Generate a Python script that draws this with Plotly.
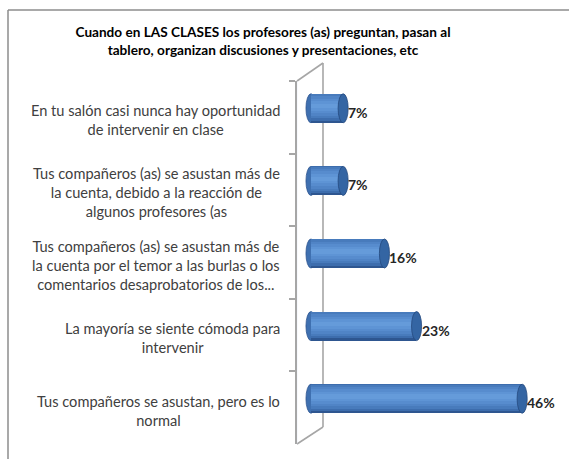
import plotly.graph_objects as go

# ---------------- data ----------------
categories = [
    "En tu salón casi nunca hay oportunidad<br>de intervenir en clase",
    "Tus compañeros (as) se asustan más de<br>la cuenta, debido a la reacción de<br>algunos profesores (as",
    "Tus compañeros (as) se asustan más de<br>la cuenta por el temor a las burlas o los<br>comentarios desaprobatorios de los...",
    "La mayoría se siente cómoda para<br>intervenir",
    "Tus compañeros se asustan, pero es lo<br>normal",
]
values = [7, 7, 16, 23, 46]
value_labels = ["7%", "7%", "16%", "23%", "46%"]
title_text = ("Cuando en LAS CLASES los profesores (as) preguntan, pasan al<br>"
              "tablero, organizan discusiones y presentaciones, etc")

# ---------------- geometry helpers ----------------
W, H = 569, 459
ML, MR, MT, MB = 297, 9, 72, 15
PW, PH = W - ML - MR, H - MT - MB
FONT = "Lato"


def px_x(p):
    return (p - ML) / PW


def px_y(p):
    return (H - MB - p) / PH


idx = list(range(len(values)))
XMIN, XMAX = -1.5, 50
SLOPE = 4.59          # px per unit
ZERO_PX = 311
x2_dom = [px_x(ZERO_PX + XMIN * SLOPE), px_x(ZERO_PX + XMAX * SLOPE)]
y_dom = [0, px_y(81)]
y2_dom = [px_y(435), 1]

fig = go.Figure()

# front (category) axis carrier trace
fig.add_trace(go.Bar(x=[0] * len(categories), y=categories, orientation="h",
                     xaxis="x", yaxis="y", marker_color="rgba(0,0,0,0)",
                     hoverinfo="skip", showlegend=False))

# cylinder shading built from nested bars
BW = 0.40
centre = -0.03
layers = [
    (0.40, "#2e5690", 0.0),
    (0.37, "#3d6dad", None),
    (0.33, "#487bbc", None),
    (0.27, "#5084c6", None),
    (0.20, "#578cce", None),
    (0.13, "#5e94d5", None),
    (0.06, "#659bda", None),
]
for w, col, off in layers:
    if off is None:
        o = max(centre - w / 2, -BW / 2)
    else:
        o = -w / 2
    fig.add_trace(go.Bar(x=values, y=idx, orientation="h", xaxis="x2", yaxis="y2",
                         width=w, offset=o, marker=dict(color=col, line=dict(width=0)),
                         hoverinfo="skip", showlegend=False))

shapes = []
CAP = 1.1
for i, v in zip(idx, values):
    shapes.append(dict(type="circle", xref="x2", yref="y2", layer="below",
                       x0=-CAP, x1=CAP, y0=i - BW / 2, y1=i + BW / 2,
                       fillcolor="#3f70b0", line=dict(color="#2e5690", width=0.8)))
    shapes.append(dict(type="circle", xref="x2", yref="y2", layer="above",
                       x0=v - CAP, x1=v + CAP, y0=i - BW / 2, y1=i + BW / 2,
                       fillcolor="#3465a3", line=dict(color="#24497e", width=0.8)))

# 3D wall lines
wall = dict(color="#a6a6a6", width=1.6)
shapes += [
    dict(type="line", xref="paper", yref="paper", layer="below",
         x0=px_x(323), x1=px_x(323), y0=px_y(63), y1=px_y(427), line=wall),
    dict(type="line", xref="paper", yref="paper", layer="below",
         x0=px_x(297), x1=px_x(323), y0=px_y(81), y1=px_y(63), line=wall),
    dict(type="line", xref="paper", yref="paper", layer="below",
         x0=px_x(297), x1=px_x(323), y0=px_y(444), y1=px_y(427), line=wall),
]
# outer frame (top and left edges visible in the window)
frame = dict(color="#8c8c8c", width=1.5)
shapes += [
    dict(type="line", xref="paper", yref="paper", layer="above",
         x0=px_x(8), x1=px_x(W + 5), y0=px_y(10), y1=px_y(10), line=frame),
    dict(type="line", xref="paper", yref="paper", layer="above",
         x0=px_x(8), x1=px_x(8), y0=px_y(10), y1=px_y(H + 5), line=frame),
]

annotations = []
for c in categories:
    annotations.append(dict(text=c, xref="paper", x=0, yref="y", y=c,
                            xanchor="right", yanchor="middle", align="center",
                            xshift=-15, yshift=-3, showarrow=False,
                            font=dict(family=FONT, size=14.6, color="#404040")))
for i, v, t in zip(idx, values, value_labels):
    annotations.append(dict(text="<b>" + t + "</b>", xref="x2", x=v, yref="y2", y=i,
                            xanchor="left", yanchor="middle", xshift=3, yshift=-4,
                            showarrow=False,
                            font=dict(family=FONT, size=14, color="#262626")))

fig.update_layout(
    width=W, height=H,
    margin=dict(l=ML, r=MR, t=MT, b=MB),
    paper_bgcolor="white", plot_bgcolor="rgba(0,0,0,0)",
    barmode="overlay", bargap=0,
    showlegend=False,
    title=dict(text="<b>" + title_text + "</b>", xref="container", yref="container",
               x=263 / W, y=1 - 37 / H, xanchor="center", yanchor="middle",
               font=dict(family=FONT, size=13.6, color="#000000")),
    xaxis=dict(domain=[0, 1], range=[0, 1], visible=False, fixedrange=True),
    yaxis=dict(domain=y_dom, type="category", categoryorder="array",
               categoryarray=categories, autorange="reversed",
               showticklabels=False, tickson="boundaries", ticks="outside",
               ticklen=6, tickcolor="#a6a6a6", tickwidth=1.5,
               showline=True, linecolor="#a6a6a6", linewidth=1.6,
               showgrid=False, zeroline=False),
    xaxis2=dict(domain=x2_dom, range=[XMIN, XMAX], anchor="y2", visible=False),
    yaxis2=dict(domain=y2_dom, range=[len(values) - 0.5, -0.5], anchor="x2",
                visible=False),
    shapes=shapes,
    annotations=annotations,
)

fig.write_html("out.html", config={"displayModeBar": False},
               post_script="document.body.style.margin='0';document.body.style.overflow='hidden';")
